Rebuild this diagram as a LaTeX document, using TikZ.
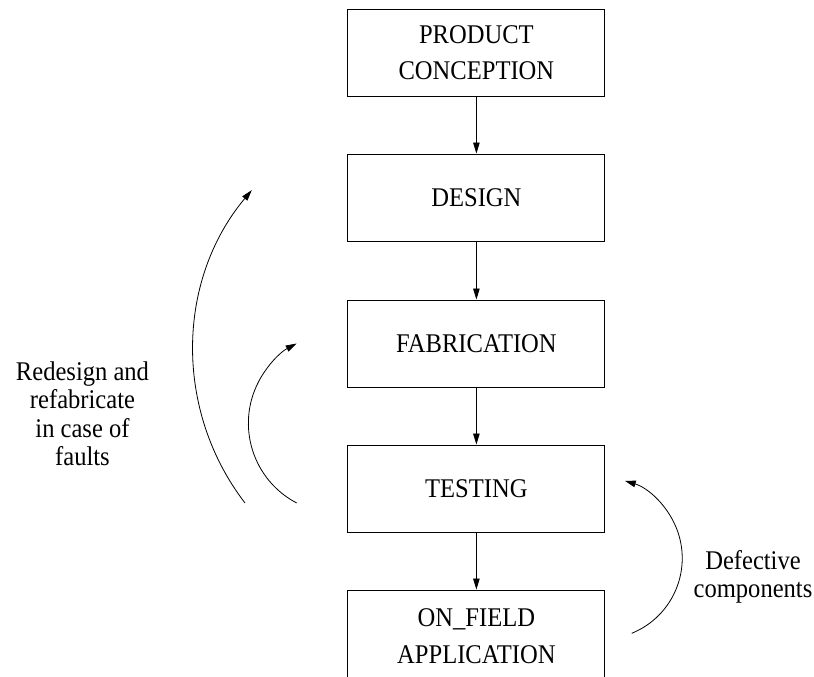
\documentclass[tikz,border=0pt]{standalone}
\usepackage{fontspec}
\setmainfont[FakeStretch=0.91]{Liberation Serif}
\usetikzlibrary{arrows.meta}

\tikzset{
  stagebox/.style={draw, line width=0.9pt, minimum width=257pt, minimum height=87pt,
    inner sep=0pt, align=center, font=\fontsize{27}{36.5}\selectfont},
  flowarrow/.style={line width=0.8pt, -{Triangle[length=11pt,width=6.5pt]}},
  sidelabel/.style={inner sep=0pt, align=center, font=\fontsize{27}{28.5}\selectfont}
}

\begin{document}
\begin{tikzpicture}[x=1pt,y=-1pt]
  \useasboundingbox (0,0) rectangle (814,677);
  \clip (0,0) rectangle (814,677);

  % process stages
  \node[stagebox] (concept) at (476.4,52.8)  {PRODUCT\\CONCEPTION};
  \node[stagebox] (design)  at (476.4,197.5) {DESIGN};
  \node[stagebox] (fab)     at (476.4,343.5) {FABRICATION};
  \node[stagebox] (test)    at (476.4,488.5) {TESTING};
  \node[stagebox, minimum height=92pt] (field) at (476.4,636) {ON\_FIELD\\APPLICATION};

  \draw[flowarrow] (concept) -- (design);
  \draw[flowarrow] (design)  -- (fab);
  \draw[flowarrow] (fab)     -- (test);
  \draw[flowarrow] (test)    -- (field);

  % feedback loops
  \coordinate (redesignStart) at (245,503);
  \coordinate (refabStart)    at (296.7,503);
  \coordinate (defectStart)   at (631.7,633.3);

  \draw[flowarrow] (redesignStart) arc[start angle=217.5, end angle=140, radius=250pt];
  \draw[flowarrow] (refabStart)    arc[start angle=242.4, end angle=117.6, radius=90pt];
  \draw[flowarrow] (defectStart)   arc[start angle=-67.9, end angle=73.1, radius=81pt];

  \node[sidelabel] (redesignText) at (82.5,414) {Redesign and\\refabricate\\in case of\\faults};
  \node[sidelabel] (defectText)   at (753,577)  {Defective\\components};
\end{tikzpicture}
\end{document}
